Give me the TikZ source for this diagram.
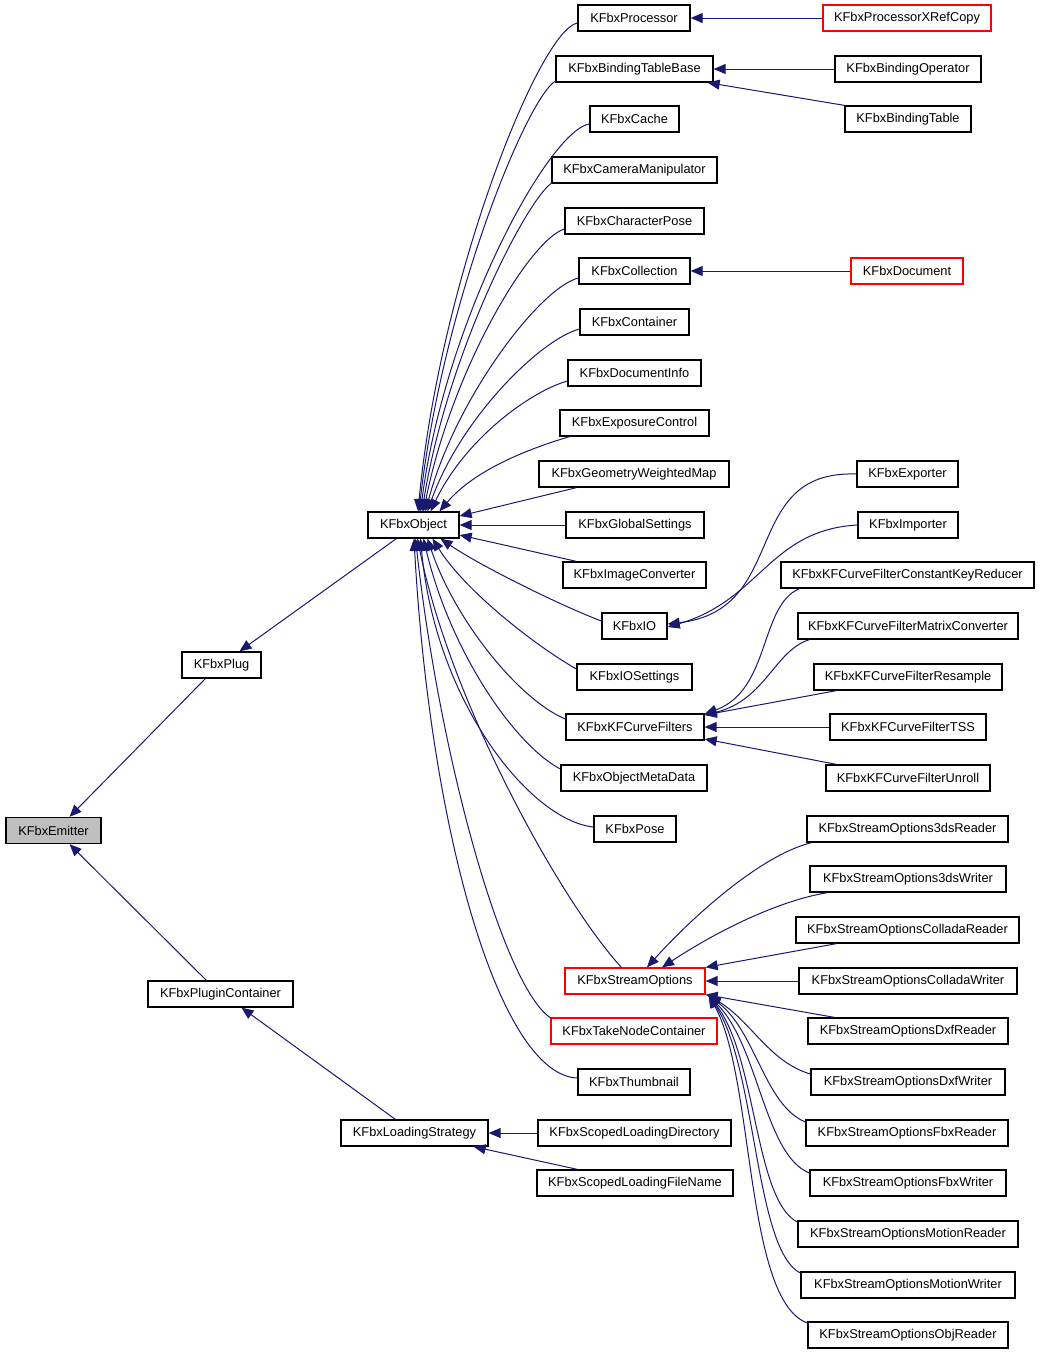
\documentclass[tikz,border=0pt]{standalone}
\usepackage{fontspec}
\setmainfont{Liberation Sans}
\usetikzlibrary{arrows.meta}
\definecolor{edgeblue}{HTML}{191970}
\definecolor{emitgray}{HTML}{BFBFBF}
\begin{document}
\begin{tikzpicture}[x=1pt,y=-1pt,
 box/.style={draw=black, line width=1.3pt, fill=white, minimum height=26pt, inner sep=0pt, font=\fontsize{12.8}{15}\selectfont, text=black},
 redbox/.style={box, draw=red},
 edge/.style={draw=edgeblue, line width=1pt, -{Triangle[length=12pt,width=10pt]}},
]
\useasboundingbox[fill=white] (0,0) rectangle (1040,1355);

% left column
\node[box, minimum width=95pt, fill=emitgray] (emitter) at (53.5,830.5) {KFbxEmitter};
\node[box, minimum width=79pt] (plug) at (221.5,665) {KFbxPlug};
\node[box, minimum width=145pt] (pc) at (220.5,994) {KFbxPluginContainer};
\node[box, minimum width=91pt] (obj) at (413.5,525) {KFbxObject};
\node[box, minimum width=147pt] (ls) at (414.5,1133) {KFbxLoadingStrategy};
\node[box, minimum width=193pt] (sld) at (634.5,1133) {KFbxScopedLoadingDirectory};
\node[box, minimum width=196pt] (slf) at (635,1183) {KFbxScopedLoadingFileName};

% middle column
\node[box, minimum width=112pt] (proc) at (634,18) {KFbxProcessor};
\node[box, minimum width=157pt] (btb) at (634.5,69) {KFbxBindingTableBase};
\node[box, minimum width=89pt] (cache) at (634.5,119) {KFbxCache};
\node[box, minimum width=165pt] (cam) at (634.5,170) {KFbxCameraManipulator};
\node[box, minimum width=139pt] (charpose) at (634.5,221) {KFbxCharacterPose};
\node[box, minimum width=111pt] (coll) at (634.5,271) {KFbxCollection};
\node[box, minimum width=109pt] (cont) at (634.5,322) {KFbxContainer};
\node[box, minimum width=133pt] (docinfo) at (634.5,373) {KFbxDocumentInfo};
\node[box, minimum width=149pt] (expo) at (634.5,423) {KFbxExposureControl};
\node[box, minimum width=190pt] (geom) at (634,474) {KFbxGeometryWeightedMap};
\node[box, minimum width=138pt] (glob) at (635,525) {KFbxGlobalSettings};
\node[box, minimum width=143pt] (imgconv) at (634.5,575) {KFbxImageConverter};
\node[box, minimum width=65pt] (io) at (634.5,626) {KFbxIO};
\node[box, minimum width=115pt] (iosettings) at (634.5,677) {KFbxIOSettings};
\node[box, minimum width=138pt] (kfcf) at (635,727) {KFbxKFCurveFilters};
\node[box, minimum width=146pt] (meta) at (634,778) {KFbxObjectMetaData};
\node[box, minimum width=82pt] (pose) at (635,829) {KFbxPose};
\node[redbox, minimum width=140pt] (stream) at (635,981) {KFbxStreamOptions};
\node[redbox, minimum width=166pt] (take) at (634,1031) {KFbxTakeNodeContainer};
\node[box, minimum width=112pt] (thumb) at (634,1082) {KFbxThumbnail};

% right column
\node[redbox, minimum width=168pt] (xref) at (907,18) {KFbxProcessorXRefCopy};
\node[box, minimum width=146pt] (bop) at (908,69) {KFbxBindingOperator};
\node[box, minimum width=126pt] (bt) at (908,119) {KFbxBindingTable};
\node[redbox, minimum width=112pt] (doc) at (907,271) {KFbxDocument};
\node[box, minimum width=101pt] (exp) at (907.5,474) {KFbxExporter};
\node[box, minimum width=100pt] (imp) at (908,525) {KFbxImporter};
\node[box, minimum width=253pt] (ckr) at (907.5,575) {KFbxKFCurveFilterConstantKeyReducer};
\node[box, minimum width=220pt] (kmc) at (908,626) {KFbxKFCurveFilterMatrixConverter};
\node[box, minimum width=188pt] (res) at (908,677) {KFbxKFCurveFilterResample};
\node[box, minimum width=156pt] (tss) at (908,727) {KFbxKFCurveFilterTSS};
\node[box, minimum width=164pt] (unr) at (908,778) {KFbxKFCurveFilterUnroll};
\node[box, minimum width=201pt] (r3ds) at (907.5,829) {KFbxStreamOptions3dsReader};
\node[box, minimum width=196pt] (w3ds) at (908,879) {KFbxStreamOptions3dsWriter};
\node[box, minimum width=223pt] (cr) at (907.5,930) {KFbxStreamOptionsColladaReader};
\node[box, minimum width=218pt] (cw) at (908,981) {KFbxStreamOptionsColladaWriter};
\node[box, minimum width=200pt] (dxr) at (908,1031) {KFbxStreamOptionsDxfReader};
\node[box, minimum width=194pt] (dxw) at (908,1082) {KFbxStreamOptionsDxfWriter};
\node[box, minimum width=202pt] (fbr) at (907,1133) {KFbxStreamOptionsFbxReader};
\node[box, minimum width=196pt] (fbw) at (908,1183) {KFbxStreamOptionsFbxWriter};
\node[box, minimum width=220pt] (mr) at (908,1234) {KFbxStreamOptionsMotionReader};
\node[box, minimum width=214pt] (mw) at (908,1285) {KFbxStreamOptionsMotionWriter};
\node[box, minimum width=200pt] (objr) at (908,1335) {KFbxStreamOptionsObjReader};

% left edges
\draw[edge] ([xshift=24pt]plug.south west) -- ([xshift=16pt]emitter.north);
\draw[edge] ([xshift=29pt]obj.south west) -- ([xshift=18pt]plug.north);
\draw[edge] ([xshift=59pt]pc.north west) -- ([xshift=16pt]emitter.south);
\draw[edge] ([xshift=55pt]ls.north west) -- ([xshift=21pt]pc.south);
\draw[edge] (sld.west) -- (ls.east);
\draw[edge] ([xshift=41pt]slf.north west) -- ([xshift=-15pt]ls.south east);

% KFbxObject children above
\draw[edge] ([yshift=-5pt]proc.west) .. controls +(-38,7) and +(22,-232) .. ([xshift=4.5pt]obj.north);
\draw[edge] ([xshift=1pt,yshift=2pt]btb.south west) .. controls +(-27,12) and +(24,-212) .. ([xshift=5.5pt]obj.north);
\draw[edge] ([yshift=-5pt]cache.west) .. controls +(-40,6) and +(24.5,-192) .. ([xshift=7pt]obj.north);
\draw[edge] ([xshift=1pt,yshift=1pt]cam.south west) .. controls +(-23,13) and +(26,-162) .. ([xshift=8.5pt]obj.north);
\draw[edge] ([yshift=-8pt]charpose.west) .. controls +(-35,11) and +(28.5,-142) .. ([xshift=10pt]obj.north);
\draw[edge] ([yshift=-7pt]coll.west) .. controls +(-39,10) and +(29.5,-112) .. ([xshift=12pt]obj.north);
\draw[edge] ([yshift=-7pt]cont.west) .. controls +(-40,11) and +(32.5,-92) .. ([xshift=14pt]obj.north);
\draw[edge] ([yshift=-8pt]docinfo.west) .. controls +(-38,11) and +(34.5,-72) .. ([xshift=17pt]obj.north);
\draw[edge] ([xshift=10pt]expo.south west) .. controls +(-40,12) and +(35.5,-42) .. ([xshift=26pt]obj.north);
\draw[edge] ([xshift=38pt]geom.south west) -- ([yshift=9pt]obj.east);
\draw[edge] (glob.west) -- (obj.east);
\draw[edge] ([xshift=14pt]imgconv.north west) -- ([yshift=-10pt]obj.east);

% KFbxObject children below
\draw[edge] ([yshift=5pt]io.west) .. controls +(-42,-16) and +(39.5,27) .. ([xshift=27pt]obj.south);
\draw[edge] ([yshift=8pt]iosettings.west) .. controls +(-42,-24) and +(32.5,52) .. ([xshift=19pt]obj.south);
\draw[edge] ([yshift=8pt]kfcf.west) .. controls +(-46,-19) and +(27.5,82) .. ([xshift=14pt]obj.south);
\draw[edge] ([yshift=9pt]meta.west) .. controls +(-46,-24) and +(26.5,112) .. ([xshift=10pt]obj.south);
\draw[edge] ([yshift=2pt]pose.west) .. controls +(-64,-7) and +(14.5,162) .. ([xshift=7pt]obj.south);
\draw[edge] ([xshift=57pt]stream.north west) .. controls +(-62,-68) and +(32.5,162) .. ([xshift=4pt]obj.south);
\draw[edge] ([xshift=1pt,yshift=-1pt]take.north west) .. controls +(-47,-29) and +(24.5,222) .. ([xshift=2pt]obj.south);
\draw[edge] ([yshift=4pt]thumb.west) .. controls +(-78,-3) and +(16,292) .. ([xshift=0.5pt]obj.south);

% right side edges
\draw[edge] (xref.west) -- (proc.east);
\draw[edge] (bop.west) -- (btb.east);
\draw[edge] (bt.north west) -- ([xshift=-6pt]btb.south east);
\draw[edge] (doc.west) -- (coll.east);
\draw[edge] (exp.west) .. controls +(-117,-4) and +(123,-14) .. ([yshift=2pt]io.east);
\draw[edge] (imp.west) .. controls +(-88,5) and +(93,-27) .. ([yshift=-1pt]io.east);
\draw[edge] ([xshift=19pt]ckr.south west) .. controls +(-40,17) and +(66,-24) .. ([yshift=13pt]kfcf.east);
\draw[edge] ([xshift=12pt]kmc.south west) .. controls +(-35,11) and +(61,-15) .. ([yshift=12pt]kfcf.east);
\draw[edge] ([xshift=23pt]res.south west) -- ([yshift=12pt]kfcf.east);
\draw[edge] (tss.west) -- (kfcf.east);
\draw[edge] ([xshift=11pt]unr.north west) -- ([yshift=-12pt]kfcf.east);

% stream options children
\draw[edge] ([xshift=5pt]r3ds.south west) .. controls +(-52,13) and +(43,-48) .. ([xshift=12pt]stream.north);
\draw[edge] ([xshift=18pt]w3ds.south west) .. controls +(-48,8) and +(58,-38) .. ([xshift=27pt]stream.north);
\draw[edge] ([xshift=41pt]cr.south west) -- (stream.north east);
\draw[edge] (cw.west) -- (stream.east);
\draw[edge] ([xshift=27pt]dxr.north west) -- (stream.south east);
\draw[edge] ([yshift=8pt]dxw.west) .. controls +(-41,-12) and +(42,25) .. ([xshift=3pt,yshift=-1pt]stream.south east);
\draw[edge] ([yshift=11pt]fbr.west) .. controls +(-41,-17) and +(47,35) .. ([xshift=3pt,yshift=-1pt]stream.south east);
\draw[edge] ([yshift=10pt]fbw.west) .. controls +(-45,-18) and +(50,50) .. ([xshift=3pt,yshift=-1pt]stream.south east);
\draw[edge] ([yshift=12pt]mr.west) .. controls +(-43,-22) and +(48,60) .. ([xshift=3pt,yshift=-1pt]stream.south east);
\draw[edge] ([yshift=12pt]mw.west) .. controls +(-46,-23) and +(48,70) .. ([xshift=3pt,yshift=-1pt]stream.south east);
\draw[edge] ([yshift=12pt]objr.west) .. controls +(-63,-23) and +(46,80) .. ([xshift=3pt,yshift=-1pt]stream.south east);
\end{tikzpicture}
\end{document}
